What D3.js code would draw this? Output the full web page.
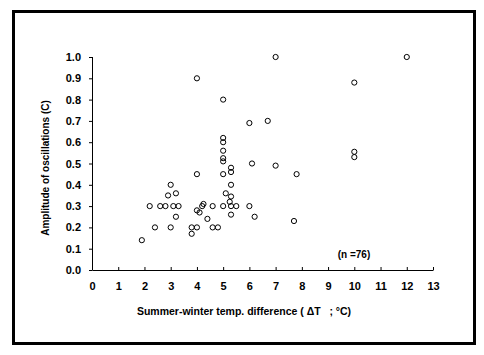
<!DOCTYPE html>
<html><head><meta charset="utf-8">
<script src="https://cdn.jsdelivr.net/npm/d3@7"></script>
<style>body{margin:0;background:#fff}svg text{font-family:"Liberation Sans",Arial,sans-serif;font-weight:bold;fill:#000}</style>
</head><body>
<script>
const tempDiff = [1.9,2.2,2.4,2.6,2.8,3.0,2.9,3.2,3.1,3.3,3.2,3.0,3.8,3.8,4.0,4.0,4.0,4.0,4.1,4.2,4.25,4.4,4.6,4.6,4.8,
  5.0,5.0,5.0,5.0,5.0,5.0,5.0,5.0,5.3,5.3,5.3,5.1,5.3,5.25,5.3,5.5,5.3,6.0,6.7,6.1,7.0,7.8,6.0,6.2,7.7,7.0,10,10,10,12];
const amplitude = [0.14,0.30,0.20,0.30,0.30,0.40,0.35,0.36,0.30,0.30,0.25,0.20,0.20,0.17,0.20,0.45,0.90,0.28,0.27,0.30,0.31,0.24,0.30,0.20,0.20,
  0.80,0.62,0.60,0.56,0.525,0.51,0.45,0.30,0.48,0.46,0.40,0.36,0.345,0.32,0.30,0.30,0.26,0.69,0.70,0.50,0.49,0.45,0.30,0.25,0.23,1.0,0.88,0.555,0.53,1.0];
const xTicks = d3.range(0,14);
const yTicks = d3.range(0,11).map(d=>d/10);

const W=484,H=355;
const svg=d3.select("body").append("svg").attr("width",W).attr("height",H);
svg.append("rect").attr("x",13.5).attr("y",11.5).attr("width",461).attr("height",332)
  .attr("fill","none").attr("stroke","#000").attr("stroke-width",3);

const x=d3.scaleLinear().domain([0,13]).range([92,433]);
const y=d3.scaleLinear().domain([0,1]).range([270,57]);

const xa=svg.append("g").attr("transform","translate(0,270)")
  .call(d3.axisBottom(x).tickValues(xTicks).tickSize(-3).tickPadding(0).tickFormat(d3.format("d")));
xa.select(".domain").attr("d","M92.5,0.5H433.5");
xa.selectAll("line").attr("stroke","#000");
xa.selectAll("text").attr("y",20).attr("dy",0).attr("font-size",11);

const ya=svg.append("g").attr("transform","translate(92,0)")
  .call(d3.axisLeft(y).tickValues(yTicks).tickSize(3).tickPadding(8).tickFormat(d3.format(".1f")));
ya.select(".domain").attr("d","M0.5,57H0.5V270.5");
ya.selectAll("line").attr("stroke","#000");
ya.selectAll("text").attr("font-size",11);
svg.selectAll(".domain").attr("stroke","#000");

svg.append("g").selectAll("circle").data(tempDiff.map((t,i)=>[t,amplitude[i]])).join("circle")
  .attr("cx",d=>x(d[0])).attr("cy",d=>y(d[1])).attr("r",2.6)
  .attr("fill","none").attr("stroke","#000").attr("stroke-width",1);

svg.append("text").attr("x",244).attr("y",315).attr("text-anchor","middle").attr("font-size",10.5)
  .text("Summer-winter temp. difference ( ΔT\u00a0\u00a0\u00a0; °C)");
svg.append("text").attr("transform","translate(49,168) rotate(-90)").attr("text-anchor","middle").attr("font-size",10)
  .text("Amplitude of oscillations (C)");
svg.append("text").attr("x",354).attr("y",258).attr("text-anchor","middle").attr("font-size",10)
  .text("(n =76)");
</script>
</body></html>
